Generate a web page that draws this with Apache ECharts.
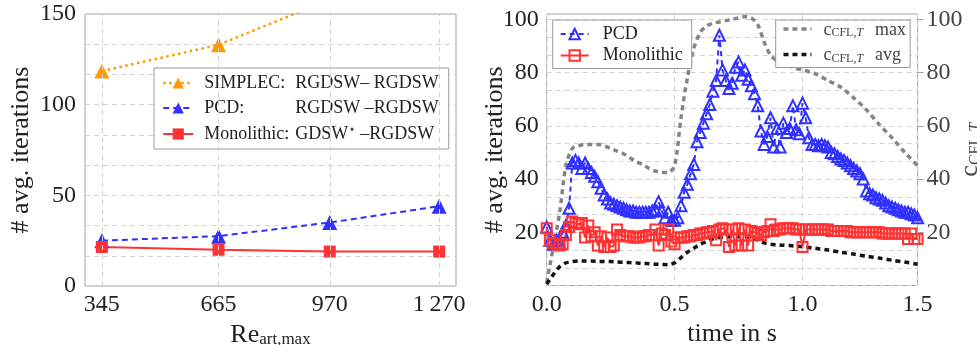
<!DOCTYPE html>
<html>
<head>
<meta charset="utf-8">
<script src="https://cdn.jsdelivr.net/npm/echarts@6/dist/echarts.min.js"></script>
<style>
  html, body { margin: 0; padding: 0; background: #fff; }
  #chart { width: 977px; height: 345px; }
</style>
</head>
<body>
<div id="chart"></div>
<script>
// ---------- left panel: average iterations vs. maximum arterial Reynolds number ----------
const reValues = [345, 665, 970, 1270];
const reTickLabels = ['345', '665', '970', '1\u2009270'];
const simplecIts = [118.5, 133, 158, 190];
const pcdIts = [25, 27.5, 35, 44];
const monolithicIts = [21.5, 20, 19, 19];

// ---------- right panel: iterations per time step and CFL numbers ----------
const time = [
  0, 0.0125, 0.025, 0.0375, 0.05, 0.0625, 0.075, 0.0875, 0.1, 0.1125,
  0.125, 0.1375, 0.15, 0.1625, 0.175, 0.1875, 0.2, 0.2125, 0.225, 0.2375,
  0.25, 0.2625, 0.275, 0.2875, 0.3, 0.3125, 0.325, 0.3375, 0.35, 0.3625,
  0.375, 0.3875, 0.4, 0.4125, 0.425, 0.4375, 0.45, 0.4625, 0.475, 0.4875,
  0.5, 0.5125, 0.525, 0.5375, 0.55, 0.5625, 0.575, 0.5875, 0.6, 0.6125,
  0.625, 0.6375, 0.65, 0.6625, 0.675, 0.6875, 0.7, 0.7125, 0.725, 0.7375,
  0.75, 0.7625, 0.775, 0.7875, 0.8, 0.8125, 0.825, 0.8375, 0.85, 0.8625,
  0.875, 0.8875, 0.9, 0.9125, 0.925, 0.9375, 0.95, 0.9625, 0.975, 0.9875,
  1.0, 1.0125, 1.025, 1.0375, 1.05, 1.0625, 1.075, 1.0875, 1.1, 1.1125,
  1.125, 1.1375, 1.15, 1.1625, 1.175, 1.1875, 1.2, 1.2125, 1.225, 1.2375,
  1.25, 1.2625, 1.275, 1.2875, 1.3, 1.3125, 1.325, 1.3375, 1.35, 1.3625,
  1.375, 1.3875, 1.4, 1.4125, 1.425, 1.4375, 1.45
];
const pcdTime = [
  22, 17, 15.5, 17, 16, 20, 22.5, 29, 46, 47,
  46, 44, 46, 44, 42.5, 41, 39, 36.5, 34, 32.5,
  31, 30.5, 30, 29.5, 29, 28.5, 28, 28, 27.5, 27.5,
  27.5, 27.5, 27.5, 28, 28.5, 31.5, 28, 25.5, 27.5, 24.5,
  24.5, 25.5, 30, 35, 38, 42, 45.5, 54, 57.5, 61,
  64.5, 68, 73, 77, 94, 81, 77, 74, 76, 82,
  84, 79, 81, 77.5, 75, 72, 67.5, 58, 53, 56,
  63, 52, 59, 52, 61, 57.5, 59, 67.5, 58.5, 57,
  68.5, 63, 55.5, 53, 53, 52.5, 53, 52.5, 52, 50,
  49.5, 48.5, 47.5, 47, 46, 45, 44, 43, 42, 40,
  35.5, 34.5, 34, 33, 32.5, 32, 31, 30, 29.5, 29,
  28.5, 28, 27.5, 27.5, 27, 26.5, 25.5
];
const monolithicTime = [
  21.5, 17, 16, 15.5, 15, 15.5, 19, 22, 24, 23.5,
  23, 23.5, 18, 22.5, 18.5, 20, 15, 18.5, 14.5, 18,
  14.5, 15, 21, 19, 18.5, 18.5, 18.5, 18, 18, 18,
  18.5, 18.5, 19, 19, 21, 15, 19.5, 19, 21, 16.5,
  15.5, 18, 18, 18, 18.5, 18.5, 19, 19, 19.5, 19.5,
  20, 20, 20.5, 17, 21, 21.5, 21, 14.5, 21, 15,
  21.5, 15, 21, 15, 20.5, 20, 19.5, 19, 20, 20.5,
  23, 20.5, 21, 21, 21.5, 21.5, 21.5, 21.5, 21, 21,
  14.5, 21, 21, 21, 21, 21, 21, 21, 21, 20.5,
  20.5, 20.5, 20.5, 20.5, 20.5, 20, 20, 20, 20, 20,
  20, 20, 20, 20, 20, 19.5, 19.5, 19.5, 19.5, 19.5,
  19.5, 19.5, 19.5, 17.5, 19.5, 17.5, 17.5
];
const cflTime = [
  0, 0.025, 0.05, 0.075, 0.1, 0.125, 0.15, 0.175, 0.2, 0.225,
  0.25, 0.275, 0.3, 0.325, 0.35, 0.375, 0.4, 0.425, 0.45, 0.475,
  0.5, 0.525, 0.55, 0.575, 0.6, 0.625, 0.65, 0.675, 0.7, 0.725,
  0.75, 0.775, 0.8, 0.825, 0.85, 0.875, 0.9, 0.925, 0.95, 0.975,
  1.0, 1.05, 1.1, 1.15, 1.2, 1.25, 1.3, 1.35, 1.4, 1.45
];
const cflMax = [
  1, 14, 27, 45, 51.5, 52.5, 53, 53, 53, 52.5,
  51.5, 50.5, 49.5, 48, 46.5, 45.5, 44, 43, 42.5, 42.5,
  45, 63, 78, 89, 95, 97.5, 98.5, 99, 99.5, 100,
  100.5, 101, 100.5, 98, 91.5, 86.5, 84.5, 83.5, 82.5, 81.5,
  81, 79.5, 77, 74.5, 70.5, 66, 60.5, 55.5, 50, 45
];
const cflAvg = [
  0.5, 4, 7, 8.5, 9, 9.2, 9.2, 9.2, 9.1, 9,
  9, 8.8, 8.7, 8.6, 8.5, 8.3, 8.2, 8, 7.9, 7.8,
  8.5, 10.5, 12.5, 14, 15.5, 16.5, 17.5, 18, 18.2, 18.3,
  18.3, 18.3, 18, 17, 16, 15.5, 15.3, 15.1, 15, 14.8,
  14.6, 14, 13.3, 12.5, 11.8, 11, 10.3, 9.5, 8.8, 8
];
const timeTickValues = [0, 0.5, 1.0, 1.45];
const timeTickLabels = ['0.0', '0.5', '1.0', '1.5'];
const iterTickValues = [20, 40, 60, 80, 100];

// ---------- styling ----------
const FONT = 'Liberation Serif';
const TXT = '#222';
const ORANGE = '#ff9a00';
const BLUE = '#3030ff';
const RED = '#ff3333';
const GRAY = '#858585';
const BLACK = '#141414';
const GRID = '#d2d2d2';
const FRAME = '#a3a3a3';
const TICK_SIZE = 24;
const TITLE_SIZE = 26;

const zip = (xs, ys) => xs.map((x, i) => [x, ys[i]]);
const isMultiple = (v, step) => Math.abs(v / step - Math.round(v / step)) < 1e-6;

const dashedSplit = { show: true, lineStyle: { color: GRID, type: [5, 4], width: 1 } };
const tickFont = { fontFamily: FONT, fontSize: TICK_SIZE, color: TXT };

const legendNames = {
  simplec: 'SIMPLEC: RGDSW–RGDSW',
  pcdRe: 'PCD: RGDSW–RGDSW',
  monoRe: 'Monolithic: GDSW⋆–RGDSW',
  pcd: 'PCD',
  mono: 'Monolithic',
  cmax: 'cCFL,T max',
  cavg: 'cCFL,T avg'
};

const chart = echarts.init(document.getElementById('chart'), null, { renderer: 'canvas' });

const hiddenMarker = { color: 'rgba(0,0,0,0)', borderWidth: 0, opacity: 0 };

const option = {
  animation: false,
  backgroundColor: '#fff',
  grid: [
    { left: 85, top: 14, width: 371, height: 272, outerBoundsMode: 'none', containLabel: false,
      show: true, borderColor: FRAME, borderWidth: 1, backgroundColor: 'transparent' },
    { left: 546.7, top: 14, width: 370.9, height: 271.5, outerBoundsMode: 'none', containLabel: false,
      show: true, borderColor: FRAME, borderWidth: 1, backgroundColor: 'transparent' }
  ],
  xAxis: [
    {
      type: 'value', gridIndex: 0, min: 298.75, max: 1316.25,
      axisLine: { show: false }, axisTick: { show: false }, splitLine: { show: false },
      axisLabel: Object.assign({
        customValues: reValues, margin: 7,
        formatter: v => reTickLabels[reValues.indexOf(v)]
      }, tickFont),
      name: '{r|Re}{s|art,max}', nameLocation: 'middle', nameGap: 28,
      nameTextStyle: {
        fontFamily: FONT, color: TXT,
        rich: {
          r: { fontFamily: FONT, fontSize: TITLE_SIZE, color: TXT, verticalAlign: 'bottom' },
          s: { fontFamily: FONT, fontSize: 17, color: TXT, lineHeight: 8, verticalAlign: 'bottom' }
        }
      }
    },
    {
      type: 'value', gridIndex: 1, min: 0, max: 1.45, interval: 0.5,
      axisLine: { show: false }, axisTick: { show: false },
      splitLine: dashedSplit,
      axisLabel: Object.assign({
        customValues: timeTickValues, margin: 7,
        formatter: v => timeTickLabels[timeTickValues.indexOf(v)]
      }, tickFont),
      name: 'time in s', nameLocation: 'middle', nameGap: 28,
      nameTextStyle: { fontFamily: FONT, fontSize: TITLE_SIZE, color: TXT }
    }
  ],
  yAxis: [
    {
      type: 'value', gridIndex: 0, min: 0, max: 150, interval: 50 / 3,
      axisLine: { show: false }, axisTick: { show: false },
      splitLine: dashedSplit,
      axisLabel: Object.assign({
        margin: 9,
        formatter: v => isMultiple(v, 50) ? String(Math.round(v)) : ''
      }, tickFont),
      name: '# avg. iterations', nameLocation: 'middle', nameGap: 51, nameMoveOverlap: false,
      nameTextStyle: { fontFamily: FONT, fontSize: TITLE_SIZE, color: TXT }
    },
    {
      type: 'value', gridIndex: 1, min: 0, max: 102, interval: 20 / 3,
      axisLine: { show: false }, axisTick: { show: false },
      splitLine: dashedSplit,
      axisLabel: Object.assign({
        customValues: iterTickValues, margin: 8,
        formatter: v => String(Math.round(v))
      }, tickFont),
      name: '# avg. iterations', nameLocation: 'middle', nameGap: 39, nameMoveOverlap: false,
      nameTextStyle: { fontFamily: FONT, fontSize: TITLE_SIZE, color: TXT }
    },
    {
      type: 'value', gridIndex: 1, position: 'right', min: 0, max: 102, interval: 20 / 3,
      axisLine: { show: false },
      axisTick: { show: true, customValues: iterTickValues, length: 6, lineStyle: { color: FRAME } },
      splitLine: { show: false },
      axisLabel: Object.assign({
        customValues: iterTickValues, margin: 9,
        formatter: v => String(Math.round(v))
      }, tickFont, { color: '#444' }),
      name: '{c|c}{s|CFL,}{t|T}', nameLocation: 'middle', nameGap: 40, nameMoveOverlap: false,
      nameTextStyle: {
        color: '#444',
        rich: {
          c: { fontFamily: FONT, fontSize: TITLE_SIZE, color: '#444', verticalAlign: 'bottom' },
          s: { fontFamily: FONT, fontSize: 16, color: '#444', lineHeight: 9, verticalAlign: 'bottom' },
          t: { fontFamily: FONT, fontSize: 16, fontStyle: 'italic', color: '#444', lineHeight: 9, verticalAlign: 'bottom' }
        }
      }
    }
  ],
  legend: [
    {
      data: [legendNames.simplec, legendNames.pcdRe, legendNames.monoRe],
      orient: 'vertical', left: 154, top: 68,
      itemWidth: 30, itemHeight: 14, itemGap: 7,
      padding: [6, 10, 6, 8],
      backgroundColor: '#fff', borderColor: '#999', borderWidth: 1, borderRadius: 0,
      selectedMode: false,
      lineStyle: { width: 'inherit' },
      textStyle: {
        fontFamily: FONT, fontSize: 18, color: TXT,
        rich: {
          a: { fontFamily: FONT, fontSize: 18, color: TXT, width: 91, padding: [0, 0, 0, 6], lineHeight: 20 },
          b: { fontFamily: FONT, fontSize: 18, color: TXT, lineHeight: 20 },
          sup: { fontFamily: 'DejaVu Sans', fontSize: 12, color: TXT, verticalAlign: 'top', lineHeight: 12 }
        }
      },
      formatter: name => {
        if (name === legendNames.simplec) return '{a|SIMPLEC:}{b|RGDSW– RGDSW}';
        if (name === legendNames.pcdRe) return '{a|PCD:}{b|RGDSW –RGDSW}';
        return '{a|Monolithic:}{b|GDSW}{sup|⋆}{b| –RGDSW}';
      }
    },
    {
      data: [legendNames.pcd, legendNames.mono],
      orient: 'vertical', left: 552.7, top: 20,
      itemWidth: 28, itemHeight: 13, itemGap: 3.5,
      padding: [5, 9, 4, 7],
      backgroundColor: '#fff', borderColor: '#999', borderWidth: 1,
      selectedMode: false,
      lineStyle: { width: 'inherit' },
      textStyle: {
        fontFamily: FONT, fontSize: 18, color: TXT,
        rich: { n: { fontFamily: FONT, fontSize: 18, color: TXT, padding: [0, 0, 0, 9], lineHeight: 20 } }
      },
      formatter: name => '{n|' + name + '}'
    },
    {
      data: [
        { name: legendNames.cmax, itemStyle: hiddenMarker },
        { name: legendNames.cavg, itemStyle: hiddenMarker }
      ],
      orient: 'vertical', left: 775.7, top: 20,
      itemWidth: 28, itemHeight: 13, itemGap: 7.5,
      padding: [1, 4, 3, 6],
      backgroundColor: '#fff', borderColor: '#999', borderWidth: 1,
      selectedMode: false,
      lineStyle: { width: 'inherit' },
      textStyle: {
        fontFamily: FONT, fontSize: 17, color: '#444',
        rich: {
          c: { fontFamily: FONT, fontSize: 18, color: '#444', padding: [0, 0, 0, 7], verticalAlign: 'bottom', lineHeight: 20 },
          s: { fontFamily: FONT, fontSize: 12, color: '#444', lineHeight: 8, verticalAlign: 'bottom' },
          t: { fontFamily: FONT, fontSize: 12, fontStyle: 'italic', color: '#444', lineHeight: 8, verticalAlign: 'bottom' },
          m: { fontFamily: FONT, fontSize: 18, color: '#444', verticalAlign: 'bottom', padding: [0, 0, 0, 12], lineHeight: 20 }
        }
      },
      formatter: name => '{c|c}{s|CFL,}{t|T}{m|' + (name === legendNames.cmax ? 'max' : 'avg') + '}'
    }
  ],
  series: [
    // vertical grid lines of the left panel at the measured Reynolds numbers
    {
      type: 'line', xAxisIndex: 0, yAxisIndex: 0, data: [], z: 0, silent: true,
      markLine: {
        silent: true, symbol: ['none', 'none'], label: { show: false }, animation: false,
        lineStyle: { color: GRID, type: [5, 4], width: 1 },
        data: reValues.map(v => ({ xAxis: v }))
      }
    },
    {
      name: legendNames.simplec, type: 'line', xAxisIndex: 0, yAxisIndex: 0, z: 3,
      data: zip(reValues, simplecIts),
      symbol: 'triangle', symbolSize: 15,
      itemStyle: { color: ORANGE },
      lineStyle: { color: ORANGE, width: 2.5, type: [2.5, 3.5] }
    },
    {
      name: legendNames.pcdRe, type: 'line', xAxisIndex: 0, yAxisIndex: 0, z: 3,
      data: zip(reValues, pcdIts),
      symbol: 'triangle', symbolSize: 15,
      itemStyle: { color: BLUE },
      lineStyle: { color: BLUE, width: 2, type: [6, 4] }
    },
    {
      name: legendNames.monoRe, type: 'line', xAxisIndex: 0, yAxisIndex: 0, z: 3,
      data: zip(reValues, monolithicIts),
      symbol: 'rect', symbolSize: 12,
      itemStyle: { color: RED },
      lineStyle: { color: RED, width: 2, type: 'solid' }
    },
    {
      name: legendNames.cmax, type: 'line', xAxisIndex: 1, yAxisIndex: 2, z: 2,
      data: zip(cflTime, cflMax), symbol: 'none', smooth: 0.3,
      itemStyle: { color: GRAY },
      lineStyle: { color: GRAY, width: 3.5, type: [5, 4] }
    },
    {
      name: legendNames.cavg, type: 'line', xAxisIndex: 1, yAxisIndex: 2, z: 2,
      data: zip(cflTime, cflAvg), symbol: 'none', smooth: 0.3,
      itemStyle: { color: BLACK },
      lineStyle: { color: BLACK, width: 3.5, type: [5, 4] }
    },
    {
      name: legendNames.pcd, type: 'line', xAxisIndex: 1, yAxisIndex: 1, z: 3,
      data: zip(time, pcdTime),
      symbol: 'triangle', symbolSize: 11, showAllSymbol: true,
      itemStyle: { color: 'rgba(0,0,0,0)', borderColor: BLUE, borderWidth: 2 },
      lineStyle: { color: BLUE, width: 2, type: [5, 4] }
    },
    {
      name: legendNames.mono, type: 'line', xAxisIndex: 1, yAxisIndex: 1, z: 3,
      data: zip(time, monolithicTime),
      symbol: 'rect', symbolSize: 10, showAllSymbol: true,
      itemStyle: { color: 'rgba(0,0,0,0)', borderColor: RED, borderWidth: 2 },
      lineStyle: { color: RED, width: 2, type: 'solid' }
    }
  ]
};

chart.setOption(option);
</script>
</body>
</html>
